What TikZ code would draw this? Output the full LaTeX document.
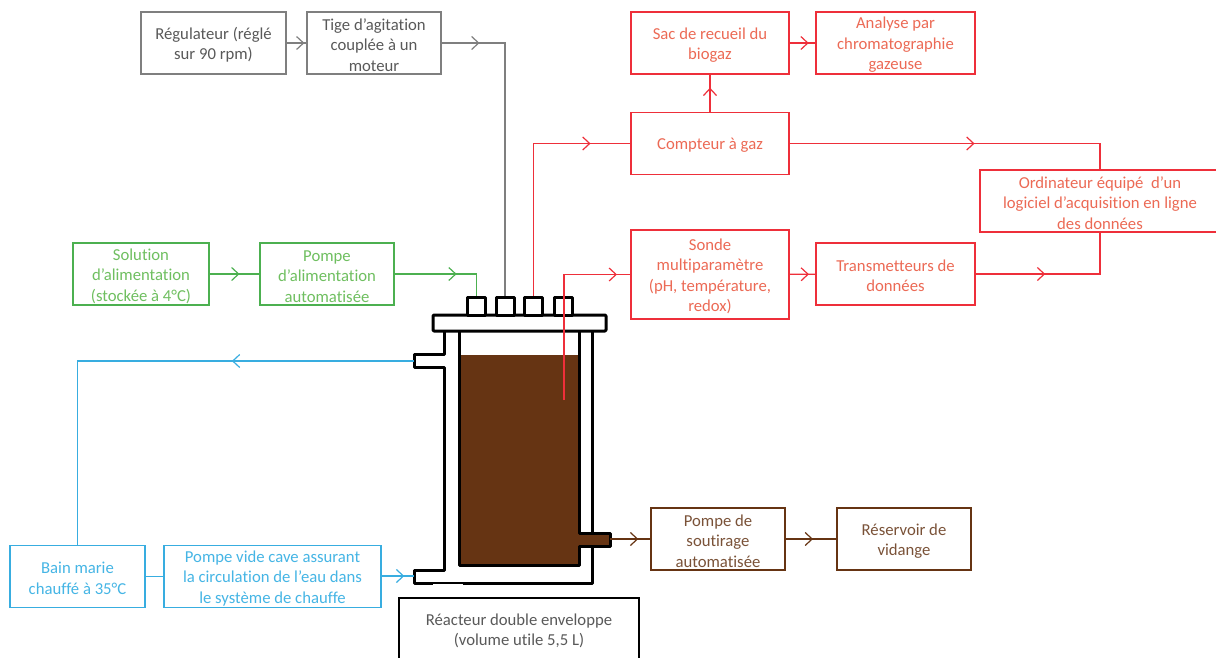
\documentclass[tikz,border=0pt]{standalone}
\usepackage{fontspec}
\setmainfont[RawFeature={-liga;-clig;-calt;-dlig}]{Carlito}
\usetikzlibrary{arrows.meta,decorations.markings}
\definecolor{gristrait}{HTML}{7F7F7F}
\definecolor{gristexte}{HTML}{595959}
\definecolor{vert}{HTML}{4CB050}
\definecolor{verttexte}{HTML}{6FBF60}
\definecolor{rouge}{HTML}{EE2F3A}
\definecolor{rougetexte}{HTML}{EC6A55}
\definecolor{bleu}{HTML}{38ADE0}
\definecolor{bleutexte}{HTML}{45B5E5}
\definecolor{brun}{HTML}{663413}
\definecolor{bruntexte}{HTML}{7A5238}
\newcommand{\hautl}{\rule{0pt}{15.5pt}}

\begin{document}
\begin{tikzpicture}[x=1pt,y=-1pt]
    \useasboundingbox (0,0) rectangle (1216,657);
    \tikzstyle{boite}=[rectangle,draw,line width=1.2pt,fill=white,align=center,inner sep=0pt,font=\fontsize{16.7}{20.5}\selectfont]
    \tikzstyle{taille}=[minimum width=#1]
    \tikzstyle{basse}=[minimum height=62]
    \tikzstyle{grisb}=[boite,basse,draw=gristrait,text=gristexte]
    \tikzstyle{vertb}=[boite,basse,draw=vert,text=verttexte]
    \tikzstyle{rougeb}=[boite,basse,draw=rouge,text=rougetexte]
    \tikzstyle{bleub}=[boite,basse,draw=bleu,text=bleutexte]
    \tikzstyle{brunb}=[boite,basse,draw=brun,text=bruntexte]
    \tikzstyle{paroi}=[draw=black,line width=3pt,line join=round]
    \tikzstyle{piquage}=[rectangle,paroi,fill=white,minimum width=18,minimum height=18,inner sep=0pt]
    \tikzstyle{fil}=[line width=1.4pt,postaction={decorate},
      decoration={markings,mark=at position #1 with {\arrow[line width=1.2pt]{Straight Barb[length=7pt,width=13pt]}}}]

    % double enveloppe
    \fill[brun] (459,355) rectangle (579,565);
    \fill[brun] (579,533) rectangle (610,546);
    \draw[paroi] (444,331) -- (444,354) -- (414,354) -- (414,367) -- (444,367) -- (444,570)
      -- (414,570) -- (414,583) -- (592,583) -- (592,546);
    \draw[paroi] (592,533) -- (592,331);
    \draw[paroi] (459,331) -- (459,565) -- (579,565) -- (579,546) -- (610,546) -- (610,533) -- (579,533) -- (579,331);
    \draw[white,line width=1pt] (433,584.2) -- (463,584.2);
    \draw[paroi,fill=white,rounded corners=1pt] (433,315) rectangle (606,331);
    \node[piquage] (piquageA) at (476.5,306) {};
    \node[piquage] (piquageB) at (505,306) {};
    \node[piquage] (piquageC) at (533.5,306) {};
    \node[piquage] (piquageD) at (563.5,306) {};
    \coordinate (sondebas) at (564,400);
    \coordinate (sortieh) at (414,361);
    \coordinate (entreeb) at (414,576);
    \coordinate (soutirage) at (610,539);

    \node[grisb,taille=145] (regulateur) at (213.5,43) {\hautl Régulateur (réglé\\sur 90 rpm)};
    \node[grisb,taille=134] (tige) at (374,43) {\hautl Tige d’agitation\\couplée à un\\moteur};
    \node[rougeb,taille=158] (sac) at (710,43) {\hautl Sac de recueil du\\biogaz};
    \node[rougeb,taille=159] (analyse) at (895.5,43) {\hautl Analyse par\\chromatographie\\gazeuse};
    \node[rougeb,taille=158] (compteur) at (710,143.5) {\hautl Compteur à gaz};
    \node[rougeb,taille=240] (ordinateur) at (1100,201) {\hautl Ordinateur équipé\ \ d’un\\logiciel d’acquisition en ligne\\des données};
    \node[rougeb,taille=158,minimum height=89] (sonde) at (710,274.5) {\hautl Sonde\\multiparamètre\\(pH, température,\\redox)};
    \node[rougeb,taille=159] (transmetteurs) at (895.5,274) {\hautl Transmetteurs de\\données};
    \node[vertb,taille=136] (solution) at (141,274) {\hautl Solution\\d’alimentation\\(stockée à 4°C)};
    \node[vertb,taille=134] (alimentation) at (327,274) {\hautl Pompe\\d’alimentation\\automatisée};
    \node[bleub,taille=135] (bain) at (77.5,576.5) {\hautl Bain marie\\chauffé à 35°C};
    \node[bleub,taille=217] (pompevide) at (272.5,576.5) {\hautl Pompe vide cave assurant\\la circulation de l’eau dans\\le système de chauffe};
    \node[grisb,draw=black,taille=240] (reacteur) at (519,629) {\hautl Réacteur double enveloppe\\(volume utile 5,5 L)};
    \node[brunb,taille=134] (pompesout) at (718,539) {\hautl Pompe de\\soutirage\\automatisée};
    \node[brunb,taille=134] (reservoir) at (904,539) {\hautl Réservoir de\\vidange};

    \draw[fil=0.9,gristrait] (regulateur) -- (tige);
    \draw[fil=0.12,gristrait] (tige.east) -| (piquageB.north);
    \draw[fil=0.6,vert] (solution) -- (alimentation);
    \draw[fil=0.6,vert] (alimentation.east) -| (piquageA.north);
    \draw[fil=0.84,rouge] (piquageC.north) |- (compteur.west);
    \draw[fil=0.65,rouge] (compteur.north) -- (sac.south);
    \draw[fil=0.74,rouge] (sac) -- (analyse);
    \draw[fil=0.55,rouge] (compteur.east) -| (ordinateur.north);
    \draw[fil=0.75,rouge] (sonde) -- (transmetteurs);
    \draw[fil=0.42,rouge] (transmetteurs.east) -| (ordinateur.south);
    \draw[fil=0.93,rouge] (sondebas) |- (sonde.west);
    \draw[fil=0.35,bleu] (sortieh) -| (bain.north);
    \draw[bleu,line width=1.4pt] (bain) -- (pompevide);
    \draw[fil=0.7,bleu] (pompevide.east |- entreeb) -- (entreeb);
    \draw[fil=0.7,brun,line width=2.2pt] (soutirage) -- (pompesout.west);
    \draw[fil=0.54,brun] (pompesout) -- (reservoir);
  \end{tikzpicture}
\end{document}
